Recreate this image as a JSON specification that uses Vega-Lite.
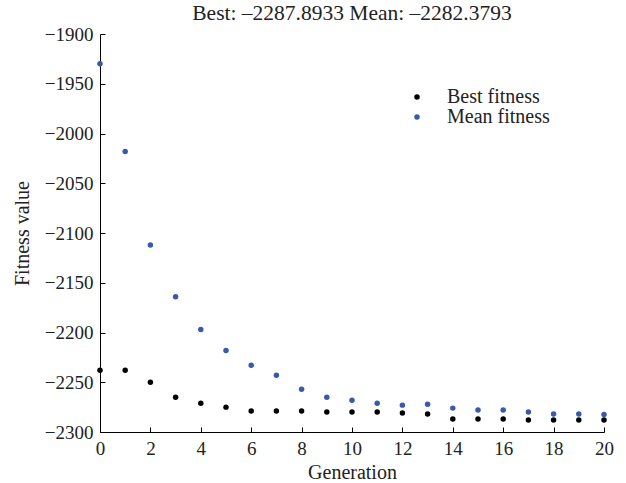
{
  "$schema": "https://vega.github.io/schema/vega-lite/v6.json",
  "width": 504,
  "height": 398,
  "autosize": {"type": "none"},
  "padding": {"left": 100, "top": 34, "right": 22, "bottom": 51},
  "background": "white",
  "title": {"text": "Best: –2287.8933 Mean: –2282.3793", "font": "Liberation Serif", "fontSize": 21.5, "fontWeight": "normal", "color": "#222", "offset": 1, "anchor": "middle"},
  "config": {"view": {"stroke": null}},
  "data": {"values": [
    {"g": 0, "s": "Best fitness", "v": -2238}, {"g": 1, "s": "Best fitness", "v": -2238},
    {"g": 2, "s": "Best fitness", "v": -2250}, {"g": 3, "s": "Best fitness", "v": -2265},
    {"g": 4, "s": "Best fitness", "v": -2271}, {"g": 5, "s": "Best fitness", "v": -2275},
    {"g": 6, "s": "Best fitness", "v": -2279}, {"g": 7, "s": "Best fitness", "v": -2279},
    {"g": 8, "s": "Best fitness", "v": -2279}, {"g": 9, "s": "Best fitness", "v": -2280},
    {"g": 10, "s": "Best fitness", "v": -2280}, {"g": 11, "s": "Best fitness", "v": -2280},
    {"g": 12, "s": "Best fitness", "v": -2281}, {"g": 13, "s": "Best fitness", "v": -2282},
    {"g": 14, "s": "Best fitness", "v": -2287}, {"g": 15, "s": "Best fitness", "v": -2287},
    {"g": 16, "s": "Best fitness", "v": -2287}, {"g": 17, "s": "Best fitness", "v": -2287.9},
    {"g": 18, "s": "Best fitness", "v": -2287.9}, {"g": 19, "s": "Best fitness", "v": -2287.9},
    {"g": 20, "s": "Best fitness", "v": -2287.9},
    {"g": 0, "s": "Mean fitness", "v": -1930}, {"g": 1, "s": "Mean fitness", "v": -2018},
    {"g": 2, "s": "Mean fitness", "v": -2112}, {"g": 3, "s": "Mean fitness", "v": -2164},
    {"g": 4, "s": "Mean fitness", "v": -2197}, {"g": 5, "s": "Mean fitness", "v": -2218},
    {"g": 6, "s": "Mean fitness", "v": -2233}, {"g": 7, "s": "Mean fitness", "v": -2243},
    {"g": 8, "s": "Mean fitness", "v": -2257}, {"g": 9, "s": "Mean fitness", "v": -2265},
    {"g": 10, "s": "Mean fitness", "v": -2268}, {"g": 11, "s": "Mean fitness", "v": -2271},
    {"g": 12, "s": "Mean fitness", "v": -2273}, {"g": 13, "s": "Mean fitness", "v": -2272},
    {"g": 14, "s": "Mean fitness", "v": -2276}, {"g": 15, "s": "Mean fitness", "v": -2278},
    {"g": 16, "s": "Mean fitness", "v": -2278}, {"g": 17, "s": "Mean fitness", "v": -2280},
    {"g": 18, "s": "Mean fitness", "v": -2282}, {"g": 19, "s": "Mean fitness", "v": -2282},
    {"g": 20, "s": "Mean fitness", "v": -2282.4}
  ]},
  "mark": {"type": "point", "filled": true, "size": 30, "opacity": 1},
  "encoding": {
    "x": {"field": "g", "type": "quantitative",
      "scale": {"domain": [0, 20], "nice": false, "zero": false},
      "axis": {"title": "Generation", "values": [0,2,4,6,8,10,12,14,16,18,20], "grid": false, "format": "d",
        "domainColor": "#000", "tickColor": "#000", "tickSize": -5, "labelPadding": 12,
        "labelFont": "Liberation Serif", "labelFontSize": 19, "labelColor": "#222",
        "titleFont": "Liberation Serif", "titleFontSize": 20, "titleFontWeight": "normal", "titleColor": "#222", "titlePadding": 4,
        "labelFlush": false}},
    "y": {"field": "v", "type": "quantitative",
      "scale": {"domain": [-2300, -1900], "nice": false, "zero": false},
      "axis": {"title": "Fitness value", "values": [-2300,-2250,-2200,-2150,-2100,-2050,-2000,-1950,-1900], "grid": false, "format": "d",
        "domainColor": "#000", "tickColor": "#000", "tickSize": -5, "labelPadding": 12,
        "labelFont": "Liberation Serif", "labelFontSize": 19, "labelColor": "#222",
        "titleFont": "Liberation Serif", "titleFontSize": 20, "titleFontWeight": "normal", "titleColor": "#222", "titlePadding": 12}},
    "color": {"field": "s", "type": "nominal",
      "scale": {"domain": ["Best fitness", "Mean fitness"], "range": ["#000000", "#3a59a8"]},
      "legend": {"title": null, "orient": "none", "legendX": 307, "legendY": 53,
        "labelFont": "Liberation Serif", "labelFontSize": 20, "labelColor": "#222",
        "symbolType": "circle", "symbolSize": 30, "rowPadding": 0, "labelOffset": 20}}
  }
}
